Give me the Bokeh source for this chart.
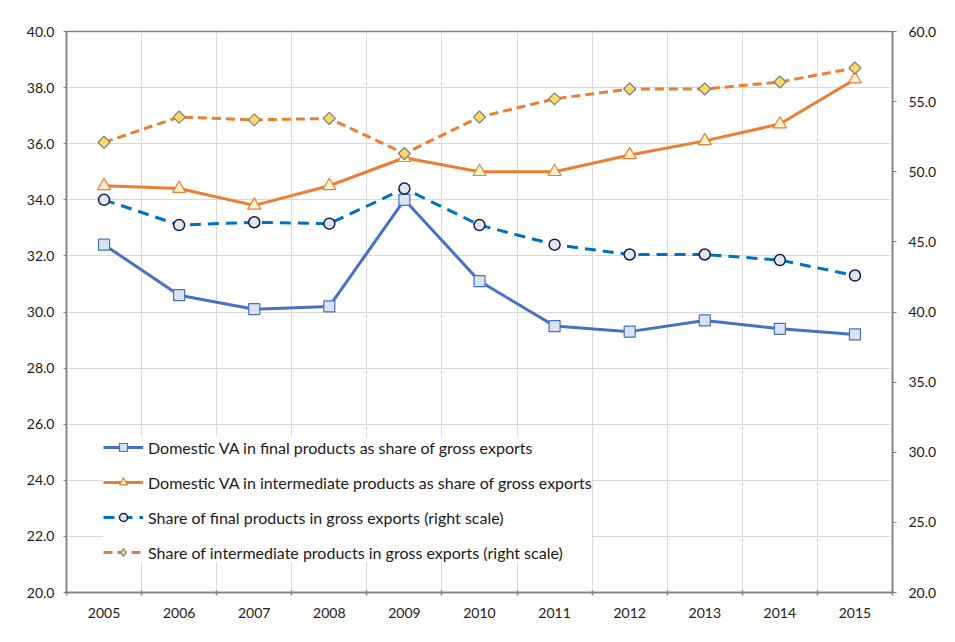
import math
from bokeh.plotting import figure
from bokeh.models import (Range1d, LinearAxis, FixedTicker, NumeralTickFormatter,
                          Legend, LegendItem)
from bokeh.embed import file_html
from bokeh.resources import INLINE

years = [2005, 2006, 2007, 2008, 2009, 2010, 2011, 2012, 2013, 2014, 2015]
dva_final = [32.4, 30.6, 30.1, 30.2, 34.0, 31.1, 29.5, 29.3, 29.7, 29.4, 29.2]
dva_inter = [34.5, 34.4, 33.8, 34.5, 35.5, 35.0, 35.0, 35.6, 36.1, 36.7, 38.3]
share_final = [48.0, 46.2, 46.4, 46.3, 48.8, 46.2, 44.8, 44.1, 44.1, 43.7, 42.6]
share_inter = [52.1, 53.9, 53.7, 53.8, 51.3, 53.9, 55.2, 55.9, 55.9, 56.4, 57.4]

labels = [
    "Domestic VA in final products as share of gross exports",
    "Domestic VA in intermediate products as share of gross exports",
    "Share of final products in gross exports (right scale)",
    "Share of intermediate products in gross exports (right scale)",
]

FONT = "Lato"
TXT = "#1a1a1a"
AXIS = "#808080"
GRID = "#d9d9d9"

boundaries = [y - 0.5 for y in years] + [years[-1] + 0.5]

p = figure(width=950, height=638, output_backend="svg", toolbar_location=None,
           x_range=Range1d(years[0] - 0.5, years[-1] + 0.5),
           y_range=Range1d(20, 40),
           min_border_left=66, min_border_right=58, min_border_top=31, min_border_bottom=46)
p.extra_y_ranges = {"right": Range1d(20, 60)}

p.outline_line_color = AXIS
p.outline_line_width = 1.5
p.background_fill_color = "white"
p.border_fill_color = "white"

# x axis
xa = p.xaxis[0]
xa.ticker = FixedTicker(ticks=years, minor_ticks=boundaries)
xa.formatter = NumeralTickFormatter(format="0")
xa.major_tick_out = 0
xa.major_tick_in = 0
xa.minor_tick_out = 3
xa.minor_tick_in = 2
xa.minor_tick_line_color = AXIS
xa.minor_tick_line_width = 1.5
xa.axis_line_color = AXIS
xa.axis_line_width = 1.5
xa.major_label_standoff = 12
xa.major_label_text_font = FONT
xa.major_label_text_font_size = "14px"
xa.major_label_text_color = TXT
p.xgrid.grid_line_color = None
p.xgrid.minor_grid_line_color = GRID
p.xgrid.minor_grid_line_width = 1

# left axis
ya = p.yaxis[0]
ya.ticker = FixedTicker(ticks=[20, 22, 24, 26, 28, 30, 32, 34, 36, 38, 40])
ya.formatter = NumeralTickFormatter(format="0.0")
ya.major_tick_out = 3
ya.major_tick_in = 0
ya.minor_tick_line_color = None
ya.axis_line_color = AXIS
ya.axis_line_width = 1.5
ya.major_tick_line_color = AXIS
ya.major_label_standoff = 9
ya.major_label_text_font = FONT
ya.major_label_text_font_size = "14px"
ya.major_label_text_color = TXT
p.ygrid.grid_line_color = GRID
p.ygrid.grid_line_width = 1

# right axis
ra = LinearAxis(y_range_name="right")
ra.ticker = FixedTicker(ticks=[20, 25, 30, 35, 40, 45, 50, 55, 60])
ra.formatter = NumeralTickFormatter(format="0.0")
ra.major_tick_out = 4
ra.major_tick_in = 0
ra.minor_tick_line_color = None
ra.axis_line_color = AXIS
ra.axis_line_width = 1.5
ra.major_tick_line_color = AXIS
ra.major_label_standoff = 12
ra.major_label_text_font = FONT
ra.major_label_text_font_size = "14px"
ra.major_label_text_color = TXT
p.add_layout(ra, "right")

# series 1: blue solid squares
l1 = p.line(years, dva_final, line_color="#4472C4", line_width=3)
s1 = p.scatter(years, dva_final, marker="square", size=11,
               fill_color="#DAE3F3", line_color="#4472C4", line_width=1.2)
# series 2: orange solid triangles
l2 = p.line(years, dva_inter, line_color="#ED7D31", line_width=3)
s2 = p.scatter(years, dva_inter, marker="triangle", size=13,
               fill_color="#FFF2CC", line_color="#ED7D31", line_width=1.2)
# series 3: blue dashed circles (right)
l3 = p.line(years, share_final, y_range_name="right", line_color="#0070C0",
            line_width=3, line_dash="11 7")
s3 = p.scatter(years, share_final, y_range_name="right", marker="circle", size=11,
               fill_color="#E7E6E6", line_color="#002060", line_width=1.5)
# series 4: orange dashed diamonds (right)
l4 = p.line(years, share_inter, y_range_name="right", line_color="#ED7D31",
            line_width=3, line_dash="9 5")
# diamond glyph used for the legend swatch (hidden under the rotated squares)
s4_leg = p.scatter(years, share_inter, y_range_name="right", marker="diamond", size=8,
                   fill_color="#FFD966", line_color="#7F7F7F", line_width=1.2)
s4 = p.scatter(years, share_inter, y_range_name="right", marker="square", size=8.5,
               angle=math.pi / 4, fill_color="#FFD966", line_color="#7F7F7F", line_width=1.2)

legend = Legend(items=[
    LegendItem(label=labels[0], renderers=[l1, s1]),
    LegendItem(label=labels[1], renderers=[l2, s2]),
    LegendItem(label=labels[2], renderers=[l3, s3]),
    LegendItem(label=labels[3], renderers=[l4, s4_leg]),
], location=(37, 30))
legend.glyph_width = 40
legend.glyph_height = 20
legend.label_height = 20
legend.spacing = 15
legend.padding = 10
legend.margin = 0
legend.label_standoff = 5
legend.border_line_color = None
legend.background_fill_color = "white"
legend.background_fill_alpha = 1.0
legend.label_text_font = FONT
legend.label_text_font_size = "16px"
legend.label_text_color = TXT
p.add_layout(legend)

open("out.html", "w").write(file_html(p, INLINE))
